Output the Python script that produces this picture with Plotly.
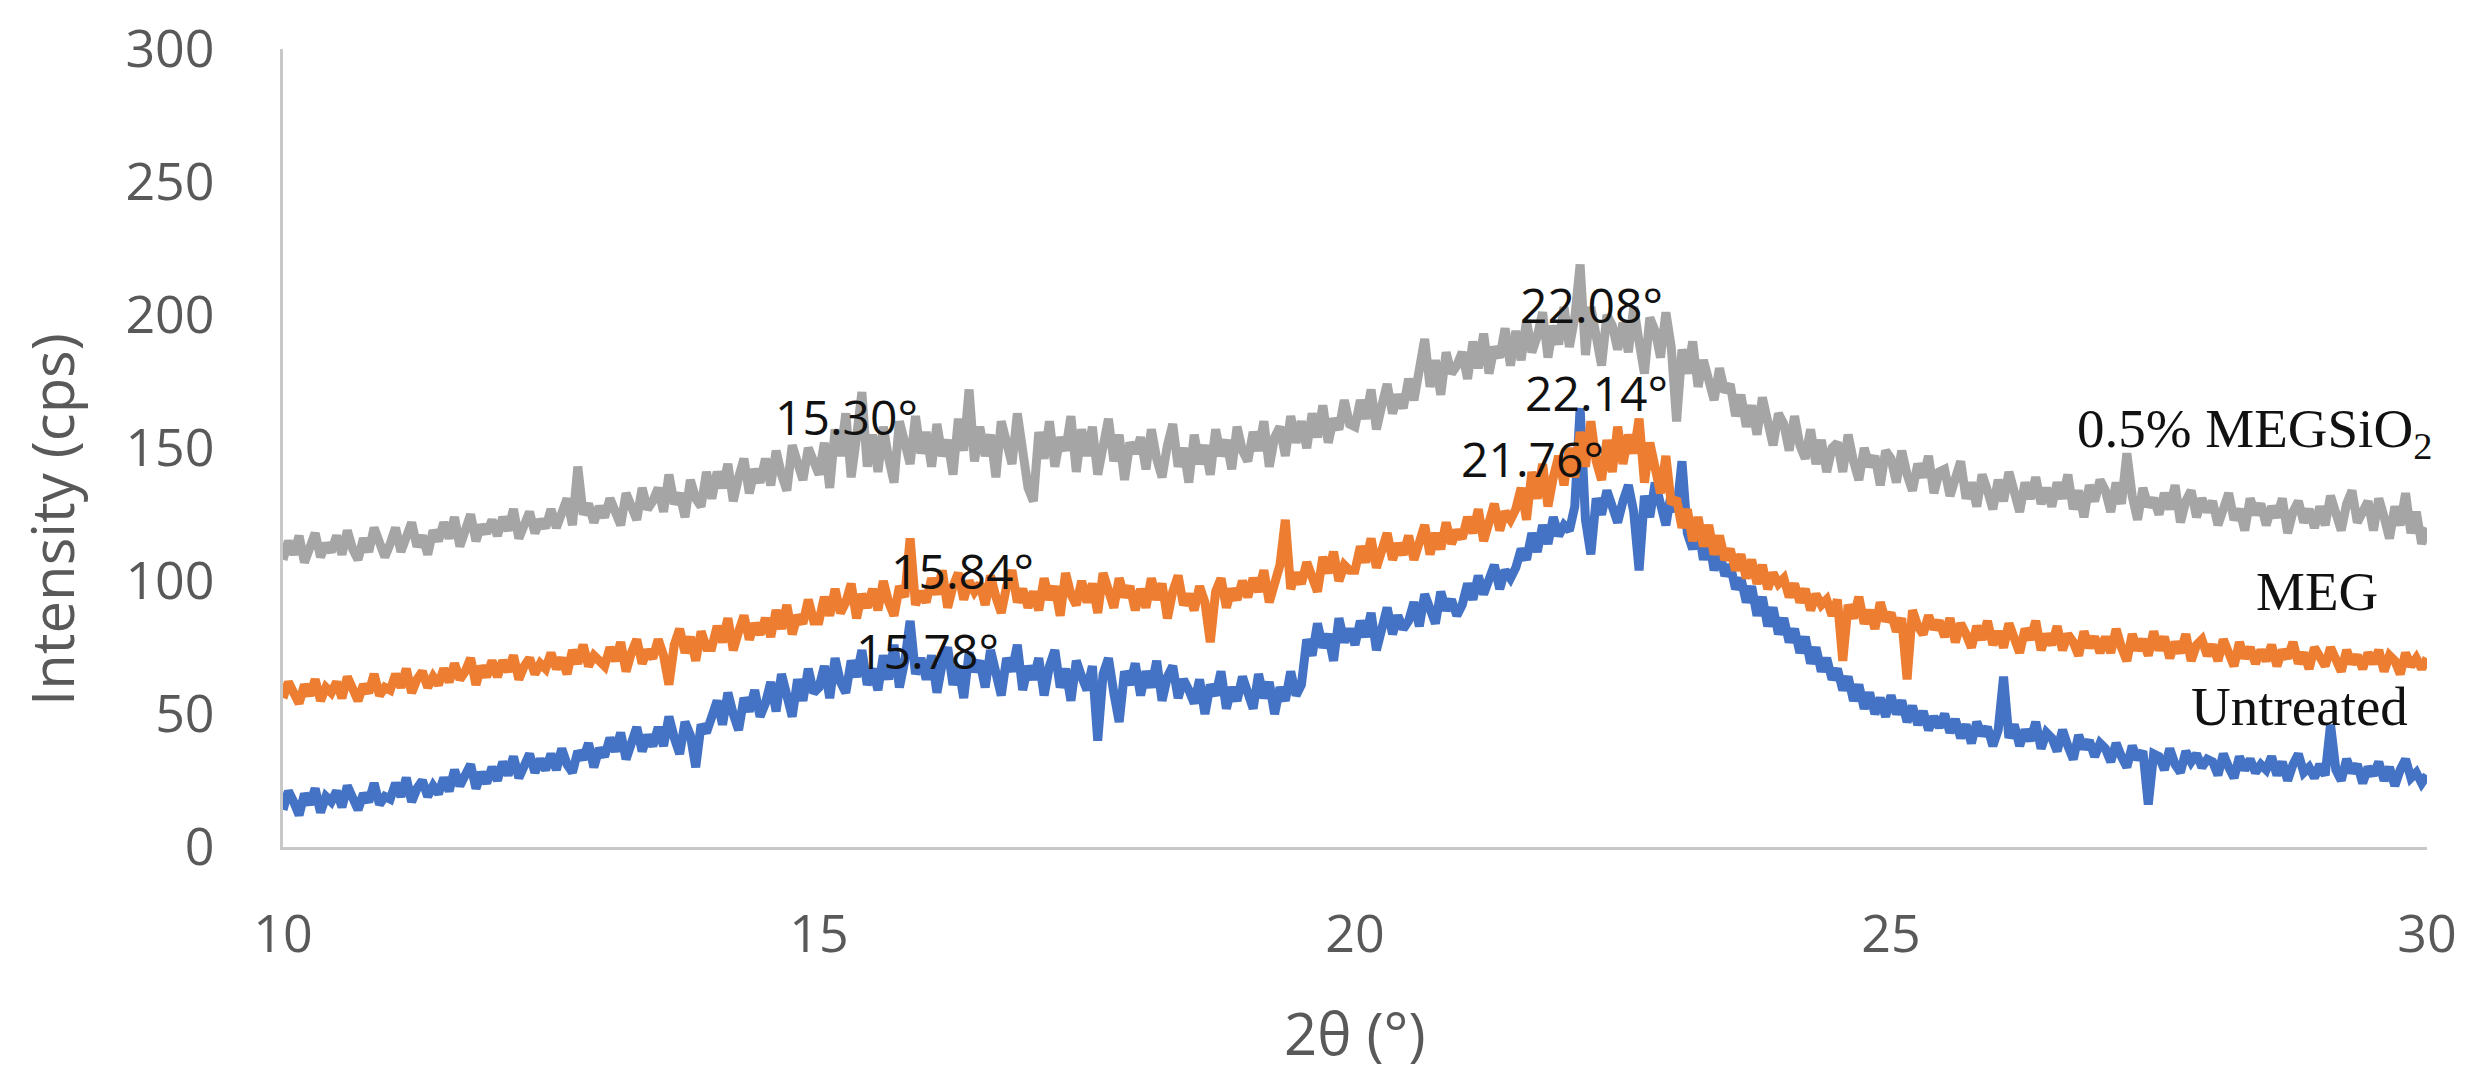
import plotly.graph_objects as go

# 2θ positions (degrees), 0.05° step from 10 to 30
two_theta = [round(10 + 0.05 * i, 2) for i in range(401)]

# 0.5% MEGSiO2 (grey), one row = 0.5°
megsio2 = [
    108, 115, 110, 117, 107, 113, 118, 109, 114, 111,
    117, 110, 119, 112, 108, 116, 111, 120, 113, 109,
    114, 120, 111, 118, 122, 113, 117, 110, 119, 115,
    122, 116, 124, 113, 120, 125, 115, 121, 118, 123,
    117, 124, 119, 127, 116, 122, 126, 118, 123, 120,
    127, 120, 126, 131, 121, 143, 125, 129, 122, 128,
    124, 131, 126, 121, 133, 128, 123, 135, 127, 130,
    135, 126, 140, 129, 133, 124, 138, 131, 128, 141,
    131, 141, 135, 144, 130, 139, 146, 133, 142, 137,
    146, 136, 149, 140, 134, 151, 143, 138, 150, 144,
    140, 152, 135, 157, 147, 163, 139, 154, 171, 143,
    155, 141, 158, 146, 137, 160, 150, 144, 162, 148,
    156, 143, 159, 147, 153, 140, 161, 149, 172, 145,
    158, 147, 155, 139, 160, 152, 144, 163, 150, 135,
    130, 156, 146, 160, 143, 154, 149, 162, 141, 157,
    147, 158, 140, 153, 161, 145, 155, 138, 152, 148,
    154, 142, 157, 146, 139, 151, 159, 143, 150, 137,
    155, 144, 151, 140, 157, 147, 153, 142, 158, 149,
    145, 156, 149, 160, 143, 154, 158, 147, 162, 152,
    160, 150, 163, 154, 166, 152, 161, 157, 168, 159,
    158, 168, 161, 172, 157, 166, 174, 163, 170, 165,
    176, 168, 180, 191, 173, 183, 170, 186, 178, 181,
    186, 176, 190, 180, 193, 178, 188, 184, 195, 181,
    194, 183, 198, 186, 192, 201, 184, 196, 189, 203,
    188, 199, 219, 185, 203, 192, 181, 200, 196, 187,
    197, 186, 203, 190, 178, 199, 194, 184, 201, 188,
    160, 187, 178, 190, 173, 183, 176, 168, 180, 171,
    174, 162, 170, 158, 166, 155, 169, 160, 151, 163,
    159, 149, 162, 151, 146, 157, 144, 153, 141, 150,
    152, 141, 155, 145, 138, 150, 143, 147, 136, 149,
    146, 137, 149, 140, 134, 144, 139, 147, 133, 141,
    142, 132, 139, 145, 131, 137, 128, 140, 134, 127,
    138, 130, 141, 133, 126, 137, 131, 139, 129, 135,
    128, 137, 131, 140, 127, 134, 124, 136, 130, 138,
    134, 126, 137, 129, 148, 132, 123, 135, 128, 131,
    125, 133, 127, 136, 122, 130, 134, 124, 131, 126,
    130, 121, 128, 133, 123, 127, 119, 131, 125, 129,
    121, 128, 124, 131, 118, 126, 130, 122, 127, 120,
    128, 121, 132, 125, 119, 129, 134, 122, 127, 130,
    119, 131, 124, 116, 128, 121, 133, 118, 126, 114,
    120,
]

# MEG (orange)
meg = [
    56, 62, 58, 54, 61, 57, 63, 55, 60, 58,
    62, 56, 64, 59, 55, 61, 58, 65, 57, 60,
    59, 65, 60, 67, 58, 63, 66, 60, 64, 61,
    67, 62, 69, 63, 66, 71, 61, 68, 64, 70,
    64, 70, 66, 72, 63, 68, 71, 65, 69, 67,
    73, 67, 71, 65, 74, 69, 76, 68, 72, 70,
    68, 75, 70, 77, 66, 73, 78, 69, 74, 71,
    78, 72, 61, 76, 82, 73, 79, 70, 81, 75,
    75, 83, 77, 86, 74, 81, 87, 78, 84, 80,
    86, 79, 89, 82, 91, 80, 87, 84, 93, 85,
    85, 94, 87, 97, 88, 92, 99, 86, 95, 90,
    97, 89, 100, 92, 87, 98, 94, 116, 91, 96,
    92, 101, 95, 104, 90, 98, 103, 93, 100, 96,
    99, 91, 102, 94, 88, 98, 104, 92, 97, 90,
    96, 89, 101, 93, 98, 87, 103, 95, 91, 100,
    92, 99, 88, 103, 95, 90, 101, 94, 98, 89,
    97, 90, 101, 93, 99, 86, 96, 102, 91, 95,
    89, 98, 92, 77, 96, 101, 90, 97, 93, 100,
    94, 101, 96, 104, 92, 99, 106, 123, 97, 103,
    99, 107, 101, 96, 109, 103, 111, 100, 106, 104,
    104, 113, 107, 116, 105, 111, 118, 108, 114, 110,
    117, 108, 115, 121, 110, 118, 112, 122, 114, 119,
    116, 124, 118, 127, 115, 122, 129, 119, 126, 123,
    127, 135, 123, 141, 131, 144, 128, 139, 147, 136,
    150, 139, 156, 143, 160, 145, 138, 153, 141, 158,
    144, 155, 148, 161, 137, 152, 142, 133, 147, 129,
    131, 120, 127, 115, 124, 113, 121, 110, 117, 108,
    112, 104, 110, 101, 108, 99, 106, 97, 103, 99,
    101, 94, 99, 92, 97, 89, 95, 91, 93, 87,
    93, 70, 91, 86, 94, 84, 89, 82, 92, 85,
    88, 81, 86, 63, 89, 83, 80, 87, 82, 85,
    79, 86, 77, 84, 80, 75, 83, 78, 85, 76,
    81, 75, 84, 77, 73, 82, 78, 85, 74, 80,
    76, 83, 74, 80, 77, 72, 81, 75, 79, 73,
    79, 73, 82, 75, 70, 80, 74, 78, 72, 81,
    74, 79, 71, 77, 73, 80, 70, 76, 78, 72,
    76, 70, 78, 73, 68, 77, 71, 75, 69, 74,
    70, 76, 68, 74, 71, 77, 69, 73, 67, 75,
    72, 68, 75, 70, 66, 74, 69, 72, 67, 73,
    69, 74, 66, 72, 70, 65, 73, 68, 71, 67,
    71,
]

# Untreated (blue)
untreated = [
    14, 21, 17, 12, 20, 16, 22, 13, 19, 17,
    21, 15, 23, 18, 14, 20, 17, 24, 16, 19,
    18, 24, 19, 26, 17, 22, 25, 19, 23, 20,
    26, 21, 29, 23, 27, 31, 22, 28, 24, 30,
    25, 32, 27, 34, 26, 30, 35, 28, 33, 29,
    35, 29, 37, 31, 28, 36, 33, 39, 30, 37,
    34, 41, 36, 43, 33, 39, 45, 36, 42, 38,
    45, 38, 49, 41, 35, 47, 42, 30, 46, 43,
    48, 55, 46, 58, 50, 44, 56, 51, 59, 49,
    54, 62, 51, 65, 57, 49, 63, 55, 67, 58,
    60, 68, 56, 71, 62, 58, 70, 64, 74, 61,
    67, 59, 72, 63, 76, 60, 70, 85, 65, 71,
    63, 72, 58, 69, 75, 61, 68, 56, 73, 66,
    70, 60, 74, 64, 57, 71, 66, 76, 59, 68,
    63, 71, 57, 68, 74, 60, 67, 55, 70, 64,
    59, 68, 40, 65, 71, 58, 47, 66, 61, 69,
    57, 66, 60, 70, 55, 64, 68, 56, 63, 59,
    54, 63, 50, 61, 57, 66, 52, 60, 55, 64,
    58, 52, 65, 56, 62, 50, 60, 55, 66, 57,
    61, 78, 72, 84, 75, 80, 70, 86, 77, 82,
    76, 85, 79, 88, 74, 83, 90, 80, 87, 82,
    85, 92, 83, 95, 88, 84, 96, 89, 93, 87,
    91, 99, 93, 102, 95, 100, 106, 97, 104, 101,
    105, 112, 108, 118, 111, 121, 114, 124, 117, 121,
    119, 128, 165, 123, 110, 131, 125, 134, 127, 122,
    130, 136, 126, 104, 132, 124, 137, 129, 121, 133,
    126, 145, 118, 112, 121, 108, 116, 104, 111, 102,
    106, 97, 101, 92, 98, 87, 94, 83, 90, 80,
    86, 77, 82, 73, 79, 69, 75, 66, 71, 63,
    67, 59, 64, 55, 61, 52, 58, 50, 56, 49,
    57, 50, 55, 47, 53, 46, 51, 44, 49, 45,
    50, 43, 48, 41, 46, 39, 47, 42, 45, 38,
    44, 64, 41, 46, 38, 44, 40, 47, 37, 43,
    41, 36, 44, 38, 33, 42, 37, 40, 34, 39,
    37, 32, 39, 34, 30, 38, 33, 36, 16, 35,
    34, 29, 37, 31, 28, 36, 32, 35, 30, 33,
    32, 27, 35, 30, 26, 34, 29, 33, 28, 31,
    29, 34, 27, 32, 25, 31, 35, 28, 30, 26,
    31, 27, 46, 29, 25, 33, 28, 31, 24, 30,
    27, 32, 25, 30, 23, 29, 33, 26, 28, 24,
    27,
]

x_ticks = [10, 15, 20, 25, 30]
y_ticks = [0, 50, 100, 150, 200, 250, 300]

# peak labels: (text, x, y)
peak_labels = [
    ("15.30°", 15.26, 162),
    ("15.84°", 16.34, 104),
    ("15.78°", 16.01, 74),
    ("22.08°", 22.21, 204),
    ("22.14°", 22.25, 171),
    ("21.76°", 21.66, 146),
]
# series labels: (text, x, y)
series_labels = [
    ("0.5% MEGSiO<sub>2</sub>", 28.39, 156),
    ("MEG", 28.97, 96),
    ("Untreated", 28.81, 53),
]

fig = go.Figure()
fig.add_trace(go.Scatter(x=two_theta, y=untreated, mode="lines", name="Untreated",
                         line=dict(color="#4472C4", width=9)))
fig.add_trace(go.Scatter(x=two_theta, y=meg, mode="lines", name="MEG",
                         line=dict(color="#ED7D31", width=9)))
fig.add_trace(go.Scatter(x=two_theta, y=megsio2, mode="lines", name="0.5% MEGSiO2",
                         line=dict(color="#A5A5A5", width=9)))

annotations = []
for t, x, y in peak_labels:
    annotations.append(dict(x=x, y=y, xref="x", yref="y", text=t, showarrow=False,
                            xanchor="center", yanchor="middle",
                            font=dict(family="Open Sans", size=48, color="#111111")))
for t, x, y in series_labels:
    annotations.append(dict(x=x, y=y, xref="x", yref="y", text=t, showarrow=False,
                            xanchor="center", yanchor="middle",
                            font=dict(family="Liberation Serif", size=55, color="#111111")))
# axis titles
annotations.append(dict(x=-0.1077, y=0.41, xref="paper", yref="paper", text="Intensity (cps)",
                        textangle=-90, showarrow=False, xanchor="center", yanchor="middle",
                        font=dict(family="Open Sans", size=58, color="#595959")))
annotations.append(dict(x=0.5, y=-0.233, xref="paper", yref="paper", text="2θ (°)",
                        showarrow=False, xanchor="center", yanchor="middle",
                        font=dict(family="Open Sans", size=58, color="#595959")))

fig.update_layout(
    width=2481, height=1076,
    margin=dict(l=283, r=54, t=49, b=229),
    paper_bgcolor="white", plot_bgcolor="white",
    showlegend=False,
    annotations=annotations,
    font=dict(family="Open Sans", color="#595959"),
)
fig.update_xaxes(range=[10, 30], tickvals=x_ticks, showline=True, linecolor="#C8C8C8",
                 linewidth=3, showgrid=False, zeroline=False, ticks="",
                 tickfont=dict(family="Open Sans", size=52, color="#595959"),
                 ticklabelstandoff=40)
fig.update_yaxes(range=[0, 300], tickvals=y_ticks, showline=True, linecolor="#C8C8C8",
                 linewidth=3, showgrid=False, zeroline=False, ticks="",
                 tickfont=dict(family="Open Sans", size=52, color="#595959"),
                 ticklabelstandoff=55)

fig.write_html("out.html")
